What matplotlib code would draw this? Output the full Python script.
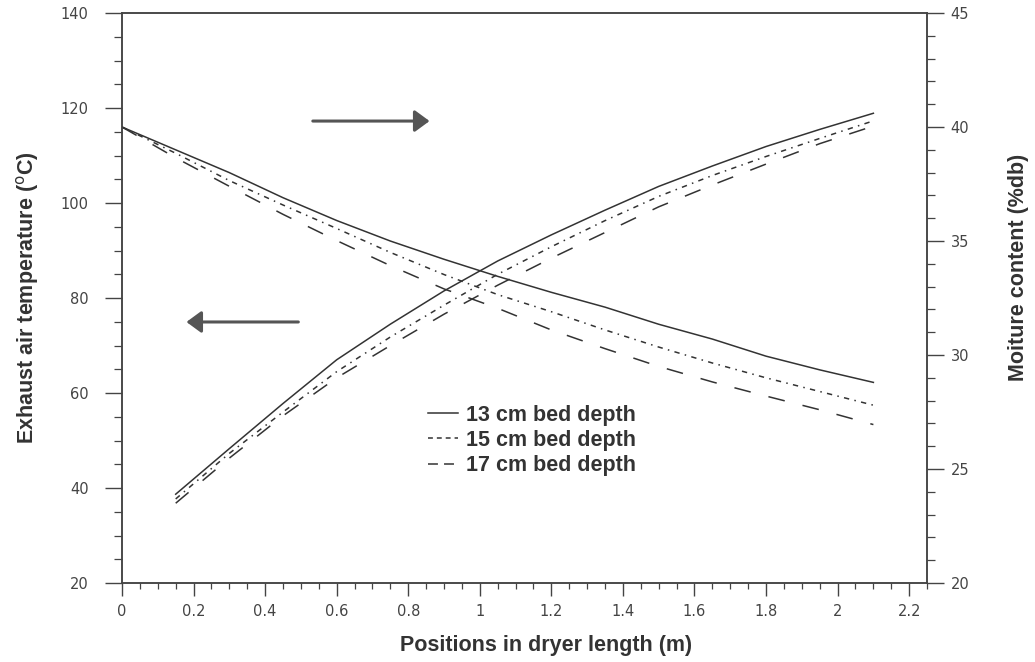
import matplotlib
matplotlib.use("Agg")
import matplotlib.pyplot as plt
from matplotlib.lines import Line2D
from matplotlib.ticker import MultipleLocator, FuncFormatter

# ---- data ----
pos_moist = [0.00, 0.15, 0.30, 0.45, 0.60, 0.75, 0.90, 1.05, 1.20, 1.35, 1.50, 1.65, 1.80, 1.95, 2.10]
moist_13 = [40.0, 39.0, 38.0, 36.9, 35.9, 35.0, 34.2, 33.45, 32.75, 32.1, 31.35, 30.7, 29.95, 29.35, 28.8]
moist_15 = [40.0, 38.85, 37.65, 36.58, 35.55, 34.5, 33.53, 32.65, 31.9, 31.1, 30.35, 29.65, 29.0, 28.4, 27.8]
moist_17 = [40.0, 38.65, 37.4, 36.17, 35.02, 33.92, 32.9, 32.05, 31.1, 30.28, 29.5, 28.82, 28.2, 27.6, 26.95]

pos_temp = [0.15, 0.30, 0.45, 0.60, 0.75, 0.90, 1.05, 1.20, 1.35, 1.50, 1.65, 1.80, 1.95, 2.10]
temp_13 = [38.7, 48.3, 57.8, 67.0, 74.5, 81.5, 87.8, 93.3, 98.5, 103.5, 107.8, 111.9, 115.5, 118.9]
temp_15 = [37.7, 47.3, 56.0, 64.5, 71.8, 78.5, 85.0, 90.8, 96.3, 101.4, 105.8, 109.8, 113.6, 117.3]
temp_17 = [36.8, 46.3, 55.2, 63.2, 70.0, 76.6, 82.7, 88.4, 93.8, 99.2, 103.8, 108.2, 112.5, 116.2]

labels = ["13 cm bed depth", "15 cm bed depth", "17 cm bed depth"]

# ---- style ----
ink = "#333333"
tick_ink = "#444444"
plt.rcParams["font.family"] = ["Liberation Sans", "DejaVu Sans"]

fig = plt.figure(figsize=(10.35, 6.62), dpi=100)
ax = fig.add_axes([0.1179, 0.1193, 0.7778, 0.861])
ax2 = ax.twinx()

styles = [
    dict(linestyle="-"),
    dict(linestyle=(0, (3.5, 3.5, 1.0, 3.5))),
    dict(linestyle=(0, (11, 12))),
]

for t, st in zip([temp_13, temp_15, temp_17], styles):
    ax.plot(pos_temp, t, color=ink, lw=1.1, **st)
for m, st in zip([moist_13, moist_15, moist_17], styles):
    ax2.plot(pos_moist, m, color=ink, lw=1.1, **st)

ax.set_xlim(0, 2.25)
ax.set_ylim(20, 140)
ax2.set_ylim(20, 45)

ax.xaxis.set_major_locator(MultipleLocator(0.2))
ax.xaxis.set_minor_locator(MultipleLocator(0.05))
ax.yaxis.set_major_locator(MultipleLocator(20))
ax.yaxis.set_minor_locator(MultipleLocator(5))
ax2.yaxis.set_major_locator(MultipleLocator(5))
ax2.yaxis.set_minor_locator(MultipleLocator(1))
ax.xaxis.set_major_formatter(FuncFormatter(lambda v, p: f"{v:g}"))

ax.tick_params(axis="x", which="major", direction="out", length=9, width=1.0,
               color=tick_ink, pad=6, labelcolor=tick_ink, labelsize=10.5, top=False)
ax.tick_params(axis="x", which="minor", direction="out", length=4.5, width=0.9,
               color=tick_ink, top=False)
ax.tick_params(axis="y", which="major", direction="out", length=12, width=1.0,
               color=tick_ink, pad=12, labelcolor=tick_ink, labelsize=10.5, right=False)
ax.tick_params(axis="y", which="minor", direction="out", length=6, width=0.9,
               color=tick_ink, right=False)
ax2.tick_params(axis="y", which="major", direction="out", length=12, width=1.0,
                color=tick_ink, pad=5, labelcolor=tick_ink, labelsize=10.5)
ax2.tick_params(axis="y", which="minor", direction="out", length=6, width=0.9,
                color=tick_ink)
for a in (ax, ax2):
    for lab in a.get_xticklabels() + a.get_yticklabels():
        lab.set_family("DejaVu Sans")
    for sp in a.spines.values():
        sp.set_color(tick_ink)
        sp.set_linewidth(1.1)

label_font = dict(fontsize=15.5, fontweight="bold", color=ink)
ax.set_xlabel("Positions in dryer length (m)", **label_font)
ax.xaxis.set_label_coords(0.527, -0.092)
ax.set_ylabel(r"Exhaust air temperature ($^{\mathrm{o}}$C)", **label_font)
ax.yaxis.set_label_coords(-0.101, 0.50)
ax2.set_ylabel("Moiture content (%db)", rotation=90, **label_font)
ax2.yaxis.set_label_coords(1.101, 0.553)

# arrows indicating which axis the curves refer to
arrow_kw = dict(arrowstyle="-|>,head_length=0.45,head_width=0.33", lw=2.2,
                color="#555555", mutation_scale=20, shrinkA=0, shrinkB=0)
ax2.annotate("", xy=(0.382, 0.8105), xytext=(0.237, 0.8105),
             xycoords="axes fraction", textcoords="axes fraction", arrowprops=arrow_kw)
ax2.annotate("", xy=(0.080, 0.458), xytext=(0.219, 0.458),
             xycoords="axes fraction", textcoords="axes fraction", arrowprops=arrow_kw)

# legend (proxy handles mimic the legend's own dash rendering)
handles = [
    Line2D([], [], color=ink, lw=1.1, linestyle="-"),
    Line2D([], [], color=ink, lw=1.1, linestyle=(0, (3.2, 2.6))),
    Line2D([], [], color=ink, lw=1.1, linestyle=(0, (6.5, 4))),
]
leg = ax2.legend(handles, labels, loc="upper left", bbox_to_anchor=(0.380, 0.313),
                 frameon=False, handlelength=1.4, handletextpad=0.37,
                 labelspacing=0.2, borderaxespad=0, borderpad=0,
                 prop=dict(size=15.5, weight="bold"))
for txt in leg.get_texts():
    txt.set_color(ink)

fig.savefig("out.png", dpi=100, facecolor="white")
